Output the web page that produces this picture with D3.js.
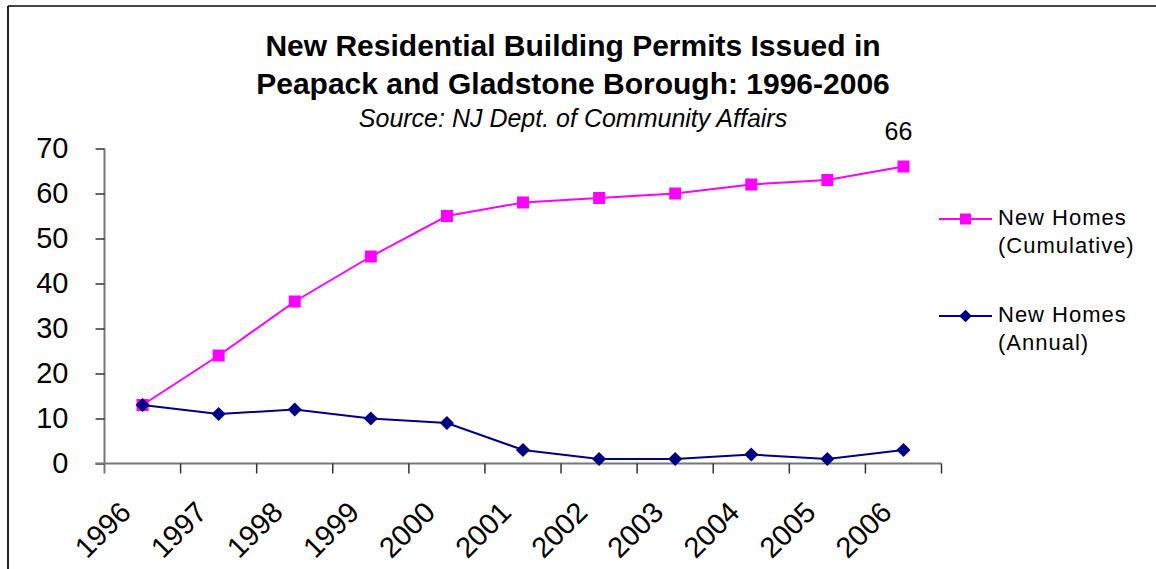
<!DOCTYPE html>
<html>
<head>
<meta charset="utf-8">
<script src="https://cdn.jsdelivr.net/npm/d3@7"></script>
<style>
  html, body { margin: 0; padding: 0; background: #fff; }
  svg { display: block; }
  text { font-family: Arial, "Liberation Sans", sans-serif; fill: #000; }
</style>
</head>
<body>
<svg id="chart" width="1156" height="569"></svg>
<script>
// Permit counts by year
const years = ["1996","1997","1998","1999","2000","2001","2002","2003","2004","2005","2006"];
const annual = [13, 11, 12, 10, 9, 3, 1, 1, 2, 1, 3];
const cumulative = [13, 24, 36, 46, 55, 58, 59, 60, 62, 63, 66];
const yTicks = [0, 10, 20, 30, 40, 50, 60, 70];
const titleLines = ["New Residential Building Permits Issued in", "Peapack and Gladstone Borough: 1996-2006"];
const subtitle = "Source: NJ Dept. of Community Affairs";
const seriesNames = [["New Homes", "(Cumulative)"], ["New Homes", "(Annual)"]];

const svg = d3.select("#chart");
const W = 1156, H = 569;

// outer frame (top and left edges)
svg.append("line").attr("x1", 8).attr("x2", W).attr("y1", 6).attr("y2", 6)
  .attr("stroke", "#444").attr("stroke-width", 2);
svg.append("line").attr("x1", 8).attr("x2", 8).attr("y1", 6).attr("y2", H)
  .attr("stroke", "#222").attr("stroke-width", 2);

const x = d3.scaleBand().domain(years).range([104.5, 941.5]).padding(0);
const y = d3.scaleLinear().domain([0, 70]).range([463.5, 148.5]);

// titles
svg.selectAll("text.title").data(titleLines).join("text")
  .attr("class", "title")
  .attr("x", 573).attr("y", (d, i) => 56 + i * 38)
  .attr("text-anchor", "middle")
  .style("font-size", "30px").style("font-weight", "bold")
  .text(d => d);
svg.append("text")
  .attr("x", 573).attr("y", 127)
  .attr("text-anchor", "middle")
  .style("font-size", "25px").style("font-style", "italic")
  .text(subtitle);

// y axis
const yAxis = svg.append("g")
  .attr("transform", "translate(104.5,0)")
  .call(d3.axisLeft(y).tickValues(yTicks).tickSize(9).tickPadding(27).tickFormat(d3.format("d")));
yAxis.select(".domain").attr("stroke", "#777").attr("stroke-width", 2)
  .attr("d", `M0,${y(70)}V${y(0) + 10}`);
yAxis.selectAll(".tick line").attr("stroke", "#333").attr("stroke-width", 1.5);
yAxis.selectAll(".tick text").style("font-size", "29px")
  .attr("font-family", null).attr("fill", "#000");

// x axis: baseline with ticks on category boundaries
const xg = svg.append("g");
xg.append("line")
  .attr("x1", x.range()[0] - 9).attr("x2", x.range()[1])
  .attr("y1", y(0)).attr("y2", y(0))
  .attr("stroke", "#777").attr("stroke-width", 2);
const bounds = years.map(d => x(d)).concat([x(years[years.length - 1]) + x.bandwidth()]);
xg.selectAll("line.xtick").data(bounds.slice(1)).join("line")
  .attr("class", "xtick")
  .attr("x1", d => d).attr("x2", d => d)
  .attr("y1", y(0)).attr("y2", y(0) + 10)
  .attr("stroke", "#333").attr("stroke-width", 1.5);
xg.selectAll("text.xlab").data(years).join("text")
  .attr("class", "xlab")
  .attr("text-anchor", "end")
  .attr("transform", d => `translate(${x(d) + x.bandwidth() / 2 - 10},514) rotate(-45)`)
  .style("font-size", "29px")
  .text(d => d);

const cx = d => x(d) + x.bandwidth() / 2;
const line = d3.line().x((v, i) => cx(years[i])).y(v => y(v));

// cumulative series
svg.append("path").datum(cumulative)
  .attr("d", line).attr("fill", "none")
  .attr("stroke", "#FF00FF").attr("stroke-width", 2);
svg.selectAll("rect.cum").data(cumulative).join("rect")
  .attr("class", "cum")
  .attr("x", (v, i) => cx(years[i]) - 6).attr("y", v => y(v) - 6)
  .attr("width", 12).attr("height", 12)
  .attr("fill", "#FF00FF");

// annual series
svg.append("path").datum(annual)
  .attr("d", line).attr("fill", "none")
  .attr("stroke", "#000080").attr("stroke-width", 2);
svg.selectAll("rect.ann").data(annual).join("rect")
  .attr("class", "ann")
  .attr("x", -5).attr("y", -5).attr("width", 10).attr("height", 10)
  .attr("transform", (v, i) => `translate(${cx(years[i])},${y(v)}) rotate(45)`)
  .attr("fill", "#000080");

// value label on the last cumulative point
const lastI = cumulative.length - 1;
svg.append("text")
  .attr("x", cx(years[lastI]) - 5).attr("y", y(cumulative[lastI]) - 27)
  .attr("text-anchor", "middle")
  .style("font-size", "25px")
  .text(cumulative[lastI]);

// legend
const legend = svg.append("g");
const legY = [219, 316];
const legColors = ["#FF00FF", "#000080"];
seriesNames.forEach((names, k) => {
  const g = legend.append("g").attr("transform", `translate(0,${legY[k]})`);
  g.append("line").attr("x1", 939).attr("x2", 992).attr("y1", 0).attr("y2", 0)
    .attr("stroke", legColors[k]).attr("stroke-width", 2);
  if (k === 0) {
    g.append("rect").attr("x", 965.5 - 5.5).attr("y", -5.5).attr("width", 11).attr("height", 11)
      .attr("fill", legColors[k]);
  } else {
    g.append("rect").attr("x", -4.5).attr("y", -4.5).attr("width", 9).attr("height", 9)
      .attr("transform", "translate(965.5,0) rotate(45)").attr("fill", legColors[k]);
  }
  g.selectAll("text").data(names).join("text")
    .attr("x", 998).attr("y", (d, i) => 6 + i * 28)
    .style("font-size", "22px").style("letter-spacing", "1px")
    .text(d => d);
});
</script>
</body>
</html>
